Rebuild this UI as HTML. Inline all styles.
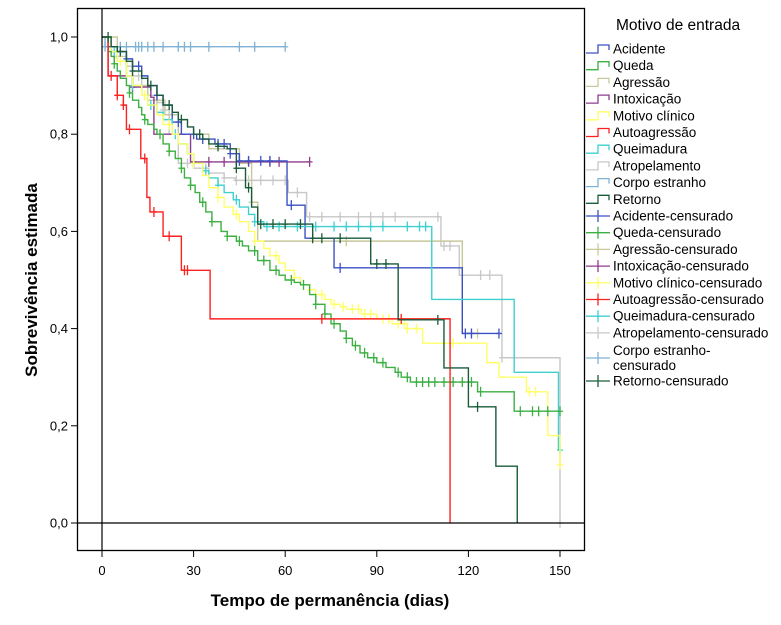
<!DOCTYPE html>
<html><head><meta charset="utf-8"><style>
body{margin:0;background:#fff;}
svg{display:block;font-family:"Liberation Sans",sans-serif;}
</style></head><body>
<svg id="chart" width="781" height="625" viewBox="0 0 781 625">
<rect x="0" y="0" width="781" height="625" fill="#fff"/>
<g id="plot"></g>
<g id="axes"></g>
<g id="legend"></g>
</svg>
<script>
const seriesNames=["Acidente","Queda","Agressão","Intoxicação","Motivo clínico","Autoagressão","Queimadura","Atropelamento","Corpo estranho","Retorno"];
const seriesColors=["#3d52c4","#3cb043","#c8c89a","#8e3d8e","#ffff66","#ff2020","#40d0d0","#c8c8c8","#7fb2d4","#1a5c3a"];
const tAcidente=[0,3,5,8,10,13,15,18,20,23,26,31,37,42,45,60.6,66.5,76,118,130];
const sAcidente=[1,0.98,0.97,0.955,0.94,0.92,0.9,0.88,0.86,0.825,0.8,0.79,0.78,0.76,0.745,0.654,0.586,0.525,0.39,0.39];
const tQueda=[0,2,3,4,5,6,8,9,10,12,13,14,15,17,18,20,22,24,26,27,29,30.5,32,34,36,39,41,44,46,48,51,55,58,60,63,65,68,70,73,75,78,80,82,84.5,87,90,93,96,98,101,123,135,150];
const sQueda=[1,0.97,0.96,0.945,0.93,0.915,0.9,0.885,0.87,0.855,0.84,0.83,0.82,0.81,0.8,0.78,0.765,0.75,0.73,0.71,0.695,0.68,0.66,0.64,0.62,0.6,0.59,0.58,0.57,0.56,0.54,0.52,0.51,0.5,0.495,0.49,0.47,0.45,0.43,0.41,0.395,0.38,0.365,0.35,0.34,0.33,0.32,0.31,0.3,0.29,0.27,0.23,0.23];
const tAgressao=[0,5,10,15,20.6,25,35,45,49,51,118,123];
const sAgressao=[1,0.95,0.9,0.87,0.84,0.8,0.77,0.74,0.66,0.58,0.39,0.39];
const tIntox=[0,2,10,16,17,29,68];
const sIntox=[1,0.92,0.897,0.876,0.8,0.743,0.743];
const tClinico=[0,3,5,8,10,13,15,18,20,23,25,28,30,33,35,38,40,43,45,48,50,53,55,58,60,63,65,68,70,73,75,78,80,85,90,95,100,105,126,130,139,146,150];
const sClinico=[1,0.97,0.95,0.92,0.9,0.88,0.86,0.84,0.82,0.8,0.78,0.76,0.74,0.715,0.69,0.67,0.65,0.635,0.62,0.6,0.58,0.565,0.55,0.535,0.52,0.505,0.49,0.48,0.47,0.46,0.45,0.445,0.44,0.43,0.42,0.41,0.4,0.37,0.33,0.3,0.27,0.18,0.12];
const tAuto=[0,2,5,7,8,12.7,14.7,15.7,20,26,35.4,114];
const sAuto=[1,0.92,0.88,0.86,0.81,0.75,0.67,0.64,0.59,0.52,0.42,0];
const tQueim=[0,3,5,8,10,13,15,18,20,23,25,28,30,33,35,38,40,43,45,48,50,53,108,135,149.5,150];
const sQueim=[1,0.97,0.95,0.92,0.9,0.88,0.86,0.845,0.83,0.8,0.78,0.76,0.74,0.725,0.71,0.695,0.68,0.665,0.65,0.635,0.62,0.61,0.46,0.31,0.15,0.15];
const tAtrop=[0,3,5,8,10,13,15,18,20,22,25,30,35,40,43.6,61,67,111,117,131,150];
const sAtrop=[1,0.98,0.96,0.94,0.92,0.9,0.88,0.865,0.85,0.8,0.74,0.73,0.72,0.71,0.705,0.68,0.63,0.57,0.51,0.34,0];
const tCorpo=[0,1,60];
const sCorpo=[1,0.98,0.98];
const tRetorno=[0,3,5,8,10,13,15,18,20,23,25,28,30,33,35,38,41,44,47,49,51,69,88,97,112,120,129,136];
const sRetorno=[1,0.98,0.97,0.95,0.93,0.915,0.9,0.88,0.86,0.845,0.83,0.815,0.8,0.79,0.78,0.775,0.77,0.73,0.69,0.65,0.615,0.586,0.533,0.418,0.319,0.239,0.117,0];
const seriesT=[tAcidente,tQueda,tAgressao,tIntox,tClinico,tAuto,tQueim,tAtrop,tCorpo,tRetorno];
const seriesS=[sAcidente,sQueda,sAgressao,sIntox,sClinico,sAuto,sQueim,sAtrop,sCorpo,sRetorno];
const cAcidente=[3,8,12,18,25,30,33,38,40,42,45,48,52,55,62,78,119,121,130];
const cQueda=[4,9,14,19,22,26,29,33,36,41,45,50,53,57,62,66,70,73,76,80,83,86,89,92,97,100,103,105,107,109,112,115,118,121,124,137,141,143,146,150];
const cAgressao=[18,30,49,80,121,123];
const cIntox=[10,30,35,40,48,55,58,68];
const cClinico=[6,14,22,30,38,44,50,57,63,68,72,76,79,82,84,86,88,92,94,97,99,100,103,112,115,140,142,150];
const cAuto=[3,5,7,9,14,17,22,27,28,72,98];
const cQueim=[4,10,16,24,30,34,38,44,50,54,58,64,70,76,80,84,88,92,100,104,106,150];
const cAtrop=[5,12,20,28,34,40,44,48,52,56,60,64,68,72,78,84,88,92,96,110,112,114,118,124,127,131,150];
const cCorpo=[1,3,6,8,11,12,13,15,17,20,25,27,29,35,45,50,60];
const cRetorno=[2,6,10,16,22,26,32,38,44,48,52,56,60,65,69,72,78,90,93,110,123];
const seriesC=[cAcidente,cQueda,cAgressao,cIntox,cClinico,cAuto,cQueim,cAtrop,cCorpo,cRetorno];
const xTicks=[0,30,60,90,120,150];
const yTicks=[0,0.2,0.4,0.6,0.8,1.0];
const yTickLabels=["0,0","0,2","0,4","0,6","0,8","1,0"];

const NS="http://www.w3.org/2000/svg";
const X0=102,X1=560,Y0=523,Y1=37;
function xs(t){return X0+(X1-X0)*t/150;}
function ys(s){return Y0-(Y0-Y1)*s;}
function mk(tag,attrs,parent){const e=document.createElementNS(NS,tag);for(const k in attrs)e.setAttribute(k,attrs[k]);parent.appendChild(e);return e;}
function survAt(T,S,t){let v=S[0];for(let i=0;i<T.length;i++){if(T[i]<=t)v=S[i];}return v;}
const plot=document.getElementById('plot');
const axes=document.getElementById('axes');
const legend=document.getElementById('legend');

let fr=mk('rect',{x:77.5,y:8.5,width:507,height:542,fill:'none',stroke:'#000','stroke-width':1.3},axes);


let rl=mk('line',{x1:77,x2:585,y1:ys(0),y2:ys(0),stroke:'#000','stroke-width':1.2},axes);


let vl=mk('line',{x1:xs(0),x2:xs(0),y1:8,y2:551,stroke:'#000','stroke-width':1.2},axes);



for(let i=0;i<xTicks.length;i++){
  const x=xs(xTicks[i]);
  let tk=mk('line',{x1:x,x2:x,y1:551,y2:557,stroke:'#000','stroke-width':1},axes);
  
  
  let tl=mk('text',{x:x,y:575,'text-anchor':'middle','font-size':13},axes);
  
  
  tl.textContent=xTicks[i];
}
for(let i=0;i<yTicks.length;i++){
  const y=ys(yTicks[i]);
  let tk=mk('line',{x1:71,x2:77,y1:y,y2:y,stroke:'#000','stroke-width':1},axes);
  
  
  let tl=mk('text',{x:68,y:y+4.5,'text-anchor':'end','font-size':13},axes);
  
  
  tl.textContent=yTickLabels[i];
}
let xt=mk('text',{x:330,y:606,'text-anchor':'middle','font-size':17,'font-weight':'bold'},axes);


xt.textContent='Tempo de permanência (dias)';
let yt=mk('text',{x:0,y:0,'text-anchor':'middle','font-size':17,'font-weight':'bold',transform:'translate(37,280) rotate(-90)'},axes);


yt.textContent='Sobrevivência estimada';

const drawOrder=[8,7,2,3,0,6,4,1,5,9];
for(const si of drawOrder){
  const T=seriesT[si],S=seriesS[si],col=seriesColors[si];
  let d='M'+xs(T[0])+','+ys(S[0]);
  for(let i=1;i<T.length;i++){d+=' H'+xs(T[i])+' V'+ys(S[i]);}
  let p=mk('path',{d:d,fill:'none',stroke:col,'stroke-width':1.4},plot);
  
  
  const C=seriesC[si];
  let cd='';
  for(const t of C){const x=xs(t),y=ys(survAt(T,S,t));cd+=' M'+x+','+(y-5)+' V'+(y+5)+' M'+(x-3)+','+y+' H'+(x+3);}
  let cp=mk('path',{d:cd,fill:'none',stroke:col,'stroke-width':1.3},plot);
  
  
}

let lt=mk('text',{x:616,y:30,'font-size':15.5},legend);


lt.textContent='Motivo de entrada';
const legendLabels=[];
for(let i=0;i<10;i++)legendLabels.push({n:seriesNames[i],c:seriesColors[i],cens:false});
for(let i=0;i<10;i++)legendLabels.push({n:seriesNames[i]+'-censurado',c:seriesColors[i],cens:true});
for(let i=0;i<legendLabels.length;i++){
  const L=legendLabels[i];
  let y=49+16.7*i;
  if(i===18)y=358;
  if(i===19)y=381;
  const g=mk('g',{},legend);
  
  
  if(L.cens){
    mk('path',{d:'M586,'+y+' H610 M598,'+(y-6)+' V'+(y+6),stroke:L.c,'stroke-width':1.3,fill:'none'},g);
  }else{
    mk('path',{d:'M586,'+(y+4)+' H598 V'+(y-4)+' H609 V'+(y+1),stroke:L.c,'stroke-width':1.3,fill:'none'},g);
  }
  if(i===18){
    let t1=mk('text',{x:613,y:y-3,'font-size':13.5},g);t1.textContent='Corpo estranho-';
    let t2=mk('text',{x:613,y:y+12,'font-size':13.5},g);t2.textContent='censurado';
  }else{
    let t=mk('text',{x:613,y:y+4.5,'font-size':13.5},g);t.textContent=L.n;
  }
}
</script>
</body></html>
